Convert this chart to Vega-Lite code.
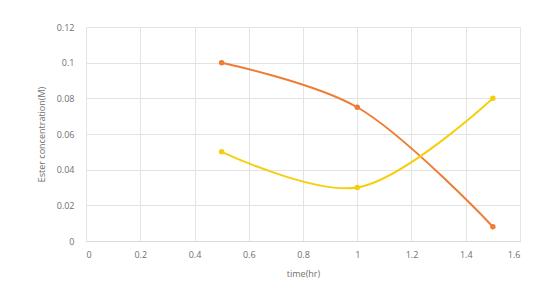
{
  "$schema": "https://vega.github.io/schema/vega-lite/v6.json",
  "autosize": "none",
  "width": 434,
  "height": 214,
  "padding": {"left": 86, "top": 27, "right": 22, "bottom": 55},
  "background": "white",
  "config": {
    "view": {"stroke": null},
    "font": "Open Sans",
    "axis": {
      "labelFont": "Open Sans",
      "titleFont": "Open Sans",
      "labelColor": "#6f6f6f",
      "titleColor": "#6f6f6f",
      "labelFontSize": 9,
      "titleFontSize": 9,
      "titleFontWeight": "normal",
      "gridColor": "#e3e3e3",
      "gridWidth": 1,
      "ticks": false
    }
  },
  "data": {
    "values": [
      {"time": 0.5, "conc": 0.1, "series": "A"},
      {"time": 1.0, "conc": 0.075, "series": "A"},
      {"time": 1.5, "conc": 0.008, "series": "A"},
      {"time": 0.5, "conc": 0.05, "series": "B"},
      {"time": 1.0, "conc": 0.03, "series": "B"},
      {"time": 1.5, "conc": 0.08, "series": "B"}
    ]
  },
  "encoding": {
    "x": {
      "field": "time", "type": "quantitative",
      "scale": {"domain": [0, 1.6], "nice": false, "zero": true},
      "axis": {"values": [0, 0.2, 0.4, 0.6, 0.8, 1, 1.2, 1.4, 1.6], "format": ".1~f", "title": "time(hr)", "domainColor": "#d9d9d9", "labelPadding": 9, "titlePadding": 10}
    },
    "y": {
      "field": "conc", "type": "quantitative",
      "scale": {"domain": [0, 0.12], "nice": false},
      "axis": {"values": [0, 0.02, 0.04, 0.06, 0.08, 0.1, 0.12], "format": ".2~f", "title": "Ester concentration(M)", "domain": false, "labelPadding": 12, "titlePadding": 10}
    },
    "color": {
      "field": "series", "type": "nominal",
      "scale": {"domain": ["A", "B"], "range": ["#ED7D31", "#F5CF0F"]},
      "legend": null
    }
  },
  "layer": [
    {"mark": {"type": "line", "interpolate": "catmull-rom", "strokeWidth": 2}},
    {"mark": {"type": "circle", "size": 30, "opacity": 1}}
  ]
}
